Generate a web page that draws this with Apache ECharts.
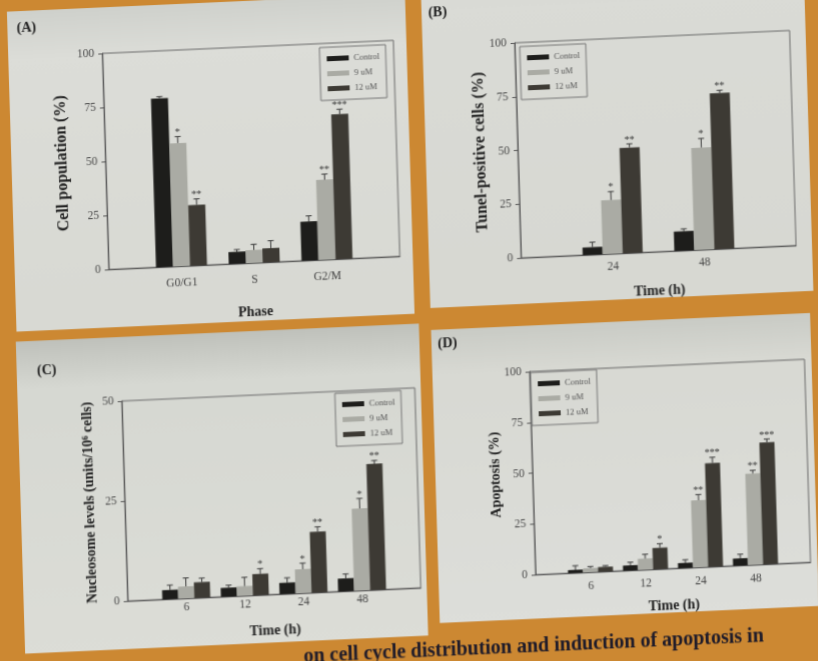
<!DOCTYPE html>
<html>
<head>
<meta charset="utf-8">
<script src="https://cdn.jsdelivr.net/npm/echarts@6/dist/echarts.min.js"></script>
<style>
  html, body { margin: 0; padding: 0; width: 818px; height: 661px; overflow: hidden; background: #cc8832; }
  /* the poster sheet is photographed at a slight angle */
  #chart {
    position: absolute; left: -41px; top: -40px; width: 900px; height: 741px;
    transform-origin: 450px 370.5px;
    transform: matrix(1, -0.045, 0.03, 1, 0, 0);
  }
</style>
</head>
<body>
<div id="chart"></div>
<script>
// ---- categories ----
const phaseCats = ['G0/G1', 'S', 'G2/M'];
const tunelHours = ['24', '48'];
const hours = ['6', '12', '24', '48'];
const seriesNames = ['Control', '9 uM', '12 uM'];
const yTicks100 = [0, 25, 50, 75, 100];
const yTicks50 = [0, 25, 50];

// ---- (A) cell cycle distribution (%) ----
const cycleControl = [78, 5.5, 18];
const cycle9 = [57, 6, 37];
const cycle12 = [28, 6.5, 67];
const cycleErrControl = [0.8, 1.0, 2.6];
const cycleErr9 = [3.0, 2.6, 2.6];
const cycleErr12 = [2.8, 3.4, 2.3];
const cycleStarsControl = ['', '', ''];
const cycleStars9 = ['*', '', '**'];
const cycleStars12 = ['**', '', '***'];

// ---- (B) Tunel-positive cells (%) ----
const tunelControl = [3.5, 9];
const tunel9 = [25, 47.5];
const tunel12 = [49, 72.5];
const tunelErrControl = [2.3, 1.1];
const tunelErr9 = [3.9, 4.2];
const tunelErr12 = [1.7, 1.2];
const tunelStarsControl = ['', ''];
const tunelStars9 = ['*', '*'];
const tunelStars12 = ['**', '**'];

// ---- (C) nucleosome levels (units/10^6 cells) ----
const nucControl = [2.3, 2.2, 2.8, 3.2];
const nuc9 = [3.0, 2.4, 6.0, 20.5];
const nuc12 = [3.9, 5.3, 15.2, 31.5];
const nucErrControl = [1.2, 0.6, 1.2, 1.1];
const nucErr9 = [2.1, 2.2, 1.5, 2.5];
const nucErr12 = [1.0, 1.3, 1.2, 0.8];
const nucStarsControl = ['', '', '', ''];
const nucStars9 = ['', '', '*', '*'];
const nucStars12 = ['', '*', '**', '**'];

// ---- (D) apoptosis (%) ----
const apoControl = [1.5, 2.5, 2.5, 3.5];
const apo9 = [2.0, 5.5, 33, 45];
const apo12 = [2.3, 10.5, 51, 60];
const apoErrControl = [2.0, 1.5, 1.5, 2.0];
const apoErr9 = [0.8, 2.1, 2.8, 1.5];
const apoErr12 = [0.6, 2.0, 2.8, 1.6];
const apoStarsControl = ['', '', '', ''];
const apoStars9 = ['', '', '**', '**'];
const apoStars12 = ['', '*', '***', '***'];

// ---- styling ----
const SERIF = '"Liberation Serif", "DejaVu Serif", serif';
const barColors = ['#1d1d1b', '#aaaba4', '#3d3a34'];
const OX = 41, OY = 40;   // sheet offset inside the enlarged canvas

const panels = [
  { label: '(A)', box: [17, -6, 415, 314], grid: [111, 40, 402, 256], labelPos: [36, 11],
    cats: phaseCats, vals: [cycleControl, cycle9, cycle12], errs: [cycleErrControl, cycleErr9, cycleErr12],
    stars: [cycleStarsControl, cycleStars9, cycleStars12], max: 100, ticks: yTicks100,
    yName: 'Cell population (%)', yFont: 16, xName: 'Phase', yGap: 35, xGap: 42, catMargin: 11, bw: 17,
    legend: [328, 44], shade: ['#cfd1cc', '#dcddd8', '#d8d9d3'] },
  { label: '(B)', box: [431, -40, 814, 309], grid: [523, 48, 798, 263], labelPos: [447, 14],
    cats: tunelHours, vals: [tunelControl, tunel9, tunel12], errs: [tunelErrControl, tunelErr9, tunelErr12],
    stars: [tunelStarsControl, tunelStars9, tunelStars12], max: 100, ticks: yTicks100,
    yName: 'Tunel-positive cells (%)', yFont: 16, xName: 'Time (h)', yGap: 28, xGap: 32, catMargin: 7, bw: 20,
    legend: [528, 52], shade: ['#d6d7d2', '#dadbd6', '#d7d8d2'] },
  { label: '(C)', box: [16, 324, 419, 636], grid: [120, 388, 413, 588], labelPos: [46, 354],
    cats: hours, vals: [nucControl, nuc9, nuc12], errs: [nucErrControl, nucErr9, nucErr12],
    stars: [nucStarsControl, nucStars9, nucStars12], max: 50, ticks: yTicks50,
    yName: 'Nucleosome levels (units/10\u2076 cells)', yFont: 14, xName: 'Time (h)', yGap: 28, xGap: 29, catMargin: 3, bw: 16,
    legend: [333, 390], shade: ['#bfc1bb', '#d6d8d2', '#dcddd7'] },
  { label: '(D)', box: [431, 331, 810, 624], grid: [528, 377, 803, 580], labelPos: [447, 345],
    cats: hours, vals: [apoControl, apo9, apo12], errs: [apoErrControl, apoErr9, apoErr12],
    stars: [apoStarsControl, apoStars9, apoStars12], max: 100, ticks: yTicks100,
    yName: 'Apoptosis (%)', yFont: 14, xName: 'Time (h)', yGap: 30, xGap: 30, catMargin: 8, bw: 15,
    legend: [529, 378], shade: ['#c9cbc5', '#d8d9d3', '#dddeda'] }
];

const pad = arr => [null, ...arr, null];

function errorSeries(p, P) {
  const data = [], marks = [];
  P.vals.forEach((arr, s) => arr.forEach((v, i) => {
    data.push([i + 1, s, v, P.errs[s][i]]);
    marks.push(P.stars[s][i]);
  }));
  return {
    type: 'custom', xAxisIndex: p, yAxisIndex: p, z: 5, silent: true,
    data, encode: { x: 0, y: 2 },
    renderItem(params, api) {
      const c = api.value(0), s = api.value(1), v = api.value(2), e = api.value(3);
      const base = api.coord([c, v]);
      const tip = api.coord([c, v + e]);
      const x = base[0] + (s - 1) * P.bw;
      const children = [
        { type: 'line', shape: { x1: x, y1: base[1], x2: x, y2: tip[1] }, style: { stroke: '#3a3a3a', lineWidth: 1 } },
        { type: 'line', shape: { x1: x - 3, y1: tip[1], x2: x + 3, y2: tip[1] }, style: { stroke: '#3a3a3a', lineWidth: 1 } }
      ];
      const star = marks[params.dataIndex];
      if (star) {
        children.push({ type: 'text', x: x, y: tip[1] + 1,
          style: { text: star, fontFamily: SERIF, fontSize: 10, fill: '#333', align: 'center', verticalAlign: 'bottom' } });
      }
      return { type: 'group', children };
    }
  };
}

const grids = [], xAxes = [], yAxes = [], series = [], legends = [], graphics = [];

panels.forEach((P, p) => {
  const [l, t, r, b] = P.grid;
  grids.push({ left: l + OX, top: t + OY, width: r - l, height: b - t, show: true,
    borderColor: '#6b6b6b', borderWidth: 1, backgroundColor: 'transparent', containLabel: false, outerBoundsMode: 'none' });

  xAxes.push({ type: 'category', gridIndex: p, data: ['', ...P.cats, ''], boundaryGap: false,
    axisLine: { lineStyle: { color: '#555', width: 1 } }, axisTick: { show: false },
    axisLabel: { interval: 0, margin: P.catMargin, fontFamily: SERIF, fontSize: 11.5, color: '#444' },
    name: P.xName, nameLocation: 'middle', nameGap: P.xGap,
    nameTextStyle: { fontFamily: SERIF, fontWeight: 'bold', fontSize: 14, color: '#222' } });

  yAxes.push({ type: 'value', gridIndex: p, min: 0, max: P.max, interval: 25,
    axisLine: { show: true, lineStyle: { color: '#555', width: 1 } },
    axisTick: { show: true, length: 4, lineStyle: { color: '#555' } },
    splitLine: { show: false },
    axisLabel: { margin: 8, fontFamily: SERIF, fontSize: 11.5, color: '#4a4a4a', customValues: P.ticks },
    name: P.yName, nameLocation: 'middle', nameGap: P.yGap, nameRotate: 90,
    nameTextStyle: { fontFamily: SERIF, fontWeight: 'bold', fontSize: P.yFont, color: '#222' } });

  seriesNames.forEach((name, s) => {
    series.push({ type: 'bar', name, xAxisIndex: p, yAxisIndex: p, data: pad(P.vals[s]),
      barWidth: P.bw, barGap: '0%', itemStyle: { color: barColors[s] }, silent: true, z: 3 });
  });
  series.push(errorSeries(p, P));

  legends.push({ left: P.legend[0] + OX, top: P.legend[1] + OY, orient: 'vertical', data: seriesNames,
    icon: 'rect', itemWidth: 22, itemHeight: 5, itemGap: 6, selectedMode: false,
    borderColor: '#777', borderWidth: 1, padding: [7, 6, 7, 7],
    textStyle: { fontFamily: SERIF, fontSize: 8.5, color: '#555' } });

  const [bl, bt, br, bb] = P.box;
  graphics.push({ type: 'rect', z: -1, shape: { x: bl + OX, y: bt + OY, width: br - bl, height: bb - bt },
    style: { fill: { type: 'linear', x: 0, y: 0, x2: 0, y2: 1, colorStops: [
      { offset: 0, color: P.shade[0] }, { offset: 0.15, color: P.shade[1] }, { offset: 1, color: P.shade[2] } ] } } });
  graphics.push({ type: 'text', z: 10, x: P.labelPos[0] + OX, y: P.labelPos[1] + OY,
    style: { text: P.label, fontFamily: SERIF, fontWeight: 'bold', fontSize: 14, fill: '#222', align: 'center', verticalAlign: 'middle' } });
});

graphics.push({ type: 'text', z: 10, x: 754 + OX, y: 652 + OY,
  style: { text: 'on cell cycle distribution and induction of apoptosis in', fontFamily: SERIF,
    fontWeight: 'bold', fontSize: 20, fill: '#1e1b2a', align: 'right', verticalAlign: 'middle' } });

const chart = echarts.init(document.getElementById('chart'), null, { renderer: 'canvas' });
chart.setOption({
  backgroundColor: '#cc8832',
  animation: false,
  grid: grids,
  xAxis: xAxes,
  yAxis: yAxes,
  legend: legends,
  graphic: graphics,
  series
});
</script>
</body>
</html>
